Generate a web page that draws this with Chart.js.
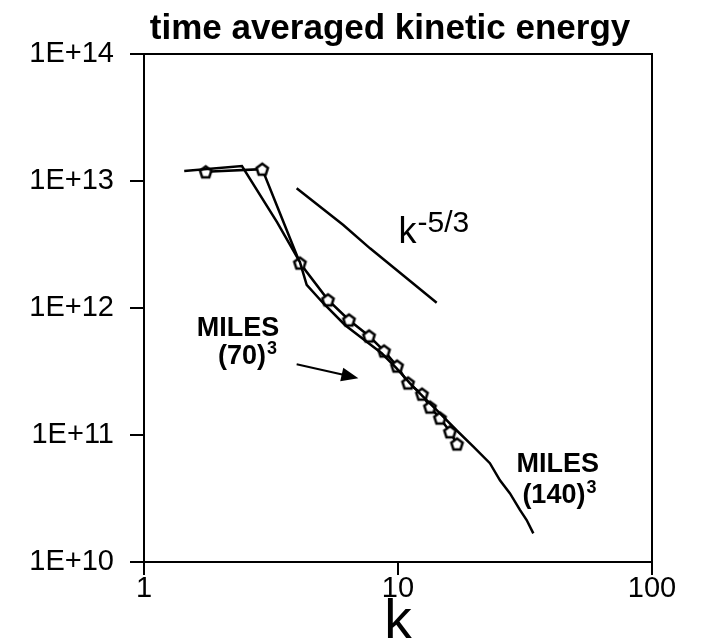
<!DOCTYPE html>
<html>
<head>
<meta charset="utf-8">
<title>time averaged kinetic energy</title>
<script src="https://cdn.jsdelivr.net/npm/chart.js@4.4.1/dist/chart.umd.min.js"></script>
<style>
    html, body { margin: 0; padding: 0; background: #fff; }
    #wrap { width: 703px; height: 639px; }
</style>
</head>
<body>
<div id="wrap"><canvas id="energyChart" width="703" height="639"></canvas></div>
<script>
// Ejes
const xTicks = [1, 10, 100];
const xTickLabels = ['1', '10', '100'];
const yTicks = [1e10, 1e11, 1e12, 1e13, 1e14];
const yTickLabels = ['1E+10', '1E+11', '1E+12', '1E+13', '1E+14'];

// MILES (140)^3 - sin marcadores
const k140 = [1.44, 2.43, 3.34, 4.11, 4.37, 5.08, 6.18, 7.53, 8.63, 9.88, 11.15, 12.58, 14.63, 17.0, 19.8, 23.0, 25.2, 27.6, 30.2, 32.1, 34.1];
const e140 = [1.2e13, 1.31e13, 4.75e12, 2.3e12, 1.52e12, 1.09e12, 7.35e11, 5.43e11, 4.4e11, 3.35e11, 2.55e11, 2.0e11, 1.48e11, 1.09e11, 8.1e10, 6.0e10, 4.4e10, 3.47e10, 2.57e10, 2.14e10, 1.68e10];

// MILES (70)^3 - con pentagonos
const k70 = [1.75, 2.92, 4.11, 5.30, 6.41, 7.69, 8.81, 9.91, 10.95, 12.43, 13.36, 14.63, 16.02, 17.07];
const e70 = [1.18e13, 1.24e13, 2.26e12, 1.16e12, 8.05e11, 6.02e11, 4.59e11, 3.49e11, 2.57e11, 2.10e11, 1.66e11, 1.36e11, 1.06e11, 8.5e10];

// Pendiente de referencia k^-5/3
const kRef = [3.99, 6.09, 7.76, 14.2];
const eRef = [8.76e12, 4.5e12, 2.95e12, 1.10e12];

const FONT = '"Liberation Sans", Arial, sans-serif';

// Marcador pentagonal (Chart.js no trae uno)
function makePentagon(r) {
    const size = Math.ceil(2 * r + 5);
    const c = document.createElement('canvas');
    c.width = size;
    c.height = size;
    const g = c.getContext('2d');
    g.beginPath();
    for (let i = 0; i < 5; i++) {
        const a = -Math.PI / 2 + i * 2 * Math.PI / 5;
        const px = size / 2 + r * Math.cos(a);
        const py = size / 2 + 0.6 + r * Math.sin(a);
        if (i === 0) g.moveTo(px, py); else g.lineTo(px, py);
    }
    g.closePath();
    g.fillStyle = '#fff';
    g.fill();
    g.lineWidth = 2.5;
    g.strokeStyle = '#000';
    g.stroke();
    return c;
}

function toPoints(xs, ys) {
    return xs.map((x, i) => ({ x: x, y: ys[i] }));
}

// Texto con exponente
function drawSup(ctx, base, sup, x, y, baseFont, supFont, rise, align) {
    ctx.font = baseFont;
    const wb = ctx.measureText(base).width;
    ctx.font = supFont;
    const ws = ctx.measureText(sup).width;
    let left = x;
    if (align === 'center') left = x - (wb + ws) / 2;
    ctx.textAlign = 'left';
    ctx.font = baseFont;
    ctx.fillText(base, left, y);
    ctx.font = supFont;
    ctx.fillText(sup, left + wb + 1, y - rise);
}

// Marco, titulo y anotaciones
const decorPlugin = {
    id: 'decor',
    beforeDatasetsDraw(chart) {
        const ctx = chart.ctx;
        const area = chart.chartArea;
        ctx.save();
        ctx.strokeStyle = '#000';
        ctx.lineWidth = 2;
        ctx.beginPath();
        ctx.moveTo(area.left, area.top);
        ctx.lineTo(area.right, area.top);
        ctx.lineTo(area.right, area.bottom);
        ctx.stroke();
        ctx.restore();
    },
    afterDraw(chart) {
        const ctx = chart.ctx;
        const area = chart.chartArea;
        const xs = chart.scales.x;
        const ys = chart.scales.y;
        const px = v => xs.getPixelForValue(v);
        const py = v => ys.getPixelForValue(v);

        ctx.save();
        ctx.fillStyle = '#000';
        ctx.textBaseline = 'alphabetic';

        // Titulo
        ctx.font = 'bold 35px ' + FONT;
        ctx.textAlign = 'center';
        ctx.fillText('time averaged kinetic energy', (area.left + area.right) / 2 - 8, 39);

        // Nombre del eje x
        ctx.font = '55px ' + FONT;
        ctx.fillText('k', px(10), 638);

        // k^-5/3
        drawSup(ctx, 'k', '-5/3', px(10.05), py(3.25e12),
            '36px ' + FONT, '30px ' + FONT, 11, 'left');

        // MILES (70)^3
        ctx.textAlign = 'center';
        ctx.font = 'bold 27px ' + FONT;
        ctx.fillText('MILES', px(2.345), py(6.0e11));
        drawSup(ctx, '(70)', '3', px(2.545), py(3.62e11),
            'bold 27px ' + FONT, 'bold 18px ' + FONT, 10, 'center');

        // MILES (140)^3
        ctx.textAlign = 'center';
        ctx.font = 'bold 27px ' + FONT;
        ctx.fillText('MILES', px(42.6), py(5.14e10));
        drawSup(ctx, '(140)', '3', px(43.0), py(2.92e10),
            'bold 27px ' + FONT, 'bold 18px ' + FONT, 10, 'center');

        // Flecha hacia la curva (70)^3
        const x0 = px(3.99), y0 = py(3.6e11);
        const x1 = px(6.98), y1 = py(2.8e11);
        const ang = Math.atan2(y1 - y0, x1 - x0);
        ctx.strokeStyle = '#000';
        ctx.lineWidth = 2;
        ctx.beginPath();
        ctx.moveTo(x0, y0);
        ctx.lineTo(x1 - 12 * Math.cos(ang), y1 - 12 * Math.sin(ang));
        ctx.stroke();
        ctx.beginPath();
        ctx.moveTo(x1, y1);
        ctx.lineTo(x1 - 17 * Math.cos(ang) + 7 * Math.sin(ang), y1 - 17 * Math.sin(ang) - 7 * Math.cos(ang));
        ctx.lineTo(x1 - 17 * Math.cos(ang) - 7 * Math.sin(ang), y1 - 17 * Math.sin(ang) + 7 * Math.cos(ang));
        ctx.closePath();
        ctx.fill();

        ctx.restore();
    }
};

const pentagon = makePentagon(6);

const ctx = document.getElementById('energyChart').getContext('2d');
window.energyChart = new Chart(ctx, {
    type: 'line',
    data: {
        datasets: [
            {
                label: 'k^-5/3',
                data: toPoints(kRef, eRef),
                borderColor: '#000',
                borderWidth: 2.5,
                pointRadius: 0,
                tension: 0
            },
            {
                label: 'MILES (140)^3',
                data: toPoints(k140, e140),
                borderColor: '#000',
                borderWidth: 2.5,
                pointRadius: 0,
                tension: 0
            },
            {
                label: 'MILES (70)^3',
                data: toPoints(k70, e70),
                borderColor: '#000',
                borderWidth: 2.5,
                pointStyle: pentagon,
                pointRadius: 6,
                tension: 0
            }
        ]
    },
    options: {
        responsive: false,
        devicePixelRatio: 1,
        animation: false,
        layout: {
            padding: { top: 54, right: 51, left: 0, bottom: 0 }
        },
        plugins: {
            legend: { display: false },
            title: { display: false },
            tooltip: { enabled: false }
        },
        scales: {
            x: {
                type: 'logarithmic',
                min: 1,
                max: 100,
                afterBuildTicks: scale => {
                    scale.ticks = xTicks.map(v => ({ value: v }));
                },
                afterFit: scale => {
                    scale.height = 77;
                },
                ticks: {
                    color: '#000',
                    padding: -3,
                    maxRotation: 0,
                    font: { family: FONT, size: 29 },
                    callback: (value, index) => xTickLabels[index]
                },
                grid: {
                    drawOnChartArea: false,
                    drawTicks: true,
                    tickLength: 13,
                    color: '#000',
                    lineWidth: 2
                },
                border: { display: true, color: '#000', width: 2 }
            },
            y: {
                type: 'logarithmic',
                min: 1e10,
                max: 1e14,
                afterBuildTicks: scale => {
                    scale.ticks = yTicks.map(v => ({ value: v }));
                },
                afterFit: scale => {
                    scale.width = 144;
                },
                ticks: {
                    color: '#000',
                    padding: 16,
                    font: { family: FONT, size: 29 },
                    callback: (value, index) => yTickLabels[index]
                },
                grid: {
                    drawOnChartArea: false,
                    drawTicks: true,
                    tickLength: 14,
                    color: '#000',
                    lineWidth: 2
                },
                border: { display: true, color: '#000', width: 2 }
            }
        }
    },
    plugins: [decorPlugin]
});
</script>
</body>
</html>
